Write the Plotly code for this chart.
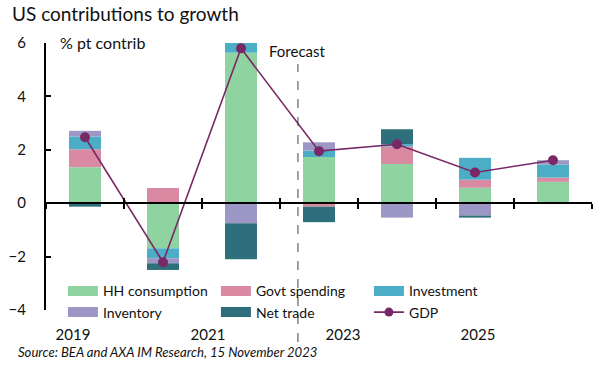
import plotly.graph_objects as go

years = [2019, 2020, 2021, 2022, 2023, 2024, 2025]
hh_consumption = [1.35, -1.69, 5.64, 1.73, 1.47, 0.58, 0.80]
govt_spending = [0.67, 0.57, 0.0, -0.13, 0.65, 0.30, 0.16]
investment = [0.48, -0.37, 0.40, 0.24, 0.09, 0.82, 0.49]
inventory = [0.21, -0.19, -0.75, 0.31, -0.54, -0.46, 0.16]
net_trade = [-0.13, -0.25, -1.35, -0.58, 0.56, -0.08, 0.0]
gdp = [2.47, -2.21, 5.80, 1.95, 2.21, 1.15, 1.61]

label_years = [2019, 2021, 2023, 2025]
label_text = ["2019", "2021", "2023", "2025"]
y_ticks = [-4, -2, 0, 2, 4, 6]
forecast_x = 2021.73

series = [
    ("HH consumption", hh_consumption, "#8fd3a1"),
    ("Govt spending", govt_spending, "#da89a2"),
    ("Investment", investment, "#4cadc7"),
    ("Inventory", inventory, "#9d97c6"),
    ("Net trade", net_trade, "#2f6f7c"),
]
gdp_color = "#7a2865"
FONT = "Lato"

W, H = 604, 376

fig = go.Figure()
for name, vals, col in series:
    fig.add_trace(go.Bar(x=years, y=vals, name=name, marker=dict(color=col, line=dict(width=0)),
                         width=0.41, showlegend=False, legendgroup=name))
fig.add_trace(go.Scatter(x=years, y=gdp, name="GDP", mode="lines+markers",
                         line=dict(color=gdp_color, width=1.6),
                         marker=dict(color=gdp_color, size=10), showlegend=False, legendgroup="GDP"))
# legend entries
for name, vals, col in series:
    fig.add_trace(go.Scatter(x=[None], y=[None], mode="lines", name=name,
                             line=dict(color=col, width=10), legendgroup=name))
fig.add_trace(go.Scatter(x=[None], y=[None], mode="lines+markers", name="GDP",
                         line=dict(color=gdp_color, width=1.6),
                         marker=dict(color=gdp_color, size=9), legendgroup="GDP"))
# helper traces for overlay axes
fig.add_trace(go.Scatter(x=[None], y=[None], xaxis="x2", showlegend=False, hoverinfo="skip"))
fig.add_trace(go.Scatter(x=[None], y=[None], xaxis="x3", showlegend=False, hoverinfo="skip"))

bounds = [y + 0.5 for y in [2018] + years]

fig.update_layout(
    width=W, height=H,
    margin=dict(l=46, r=12, t=43, b=66, autoexpand=False),
    paper_bgcolor="white", plot_bgcolor="white",
    barmode="relative",
    font=dict(family=FONT, size=15, color="#111"),
    title=dict(text="US contributions to growth", x=12 / W, xref="container", xanchor="left",
               y=1 - 14 / H, yanchor="middle", yref="container",
               font=dict(family=FONT, size=19, color="#111")),
    xaxis=dict(range=[2018.5, 2025.5], anchor="free", position=0.4, showline=True, linecolor="black",
               linewidth=2, ticks="outside", tickvals=bounds, ticklen=5, tickwidth=2, tickcolor="black",
               showticklabels=False, showgrid=False, zeroline=False),
    xaxis3=dict(range=[2018.5, 2025.5], overlaying="x", anchor="free", position=0.4, showline=False,
                ticks="inside", tickvals=bounds, ticklen=5, tickwidth=2, tickcolor="black",
                showticklabels=False, showgrid=False, zeroline=False),
    xaxis2=dict(range=[2018.6, 2026.69], overlaying="x", anchor="y", side="bottom", showline=False,
                ticks="", tickvals=label_years, ticktext=label_text, showgrid=False, zeroline=False,
                ticklabelstandoff=14, tickfont=dict(size=15, color="#111")),
    yaxis=dict(range=[-4, 6], tickvals=y_ticks, showline=True, linecolor="black", linewidth=2,
               ticks="inside", ticklen=5, tickwidth=2, tickcolor="black", showgrid=False,
               zeroline=False, ticklabelstandoff=15, tickfont=dict(size=15, color="#111")),
    legend=dict(orientation="h", x=0.031, xanchor="left", y=0.13, yanchor="top",
                entrywidth=108, entrywidthmode="pixels", bgcolor="rgba(0,0,0,0)",
                font=dict(size=14, color="#111"), traceorder="normal"),
    shapes=[dict(type="line", xref="x", yref="paper", x0=forecast_x, x1=forecast_x,
                 y0=-0.12, y1=0.921, line=dict(color="#444", width=1, dash="dash"))],
    annotations=[
        dict(text="Forecast", xref="x", yref="paper", x=forecast_x, y=(310 - 51) / 267,
             xanchor="center", yanchor="middle", showarrow=False, font=dict(size=15, color="#111")),
        dict(text="% pt contrib", xref="paper", yref="paper", x=(58 - 46) / 546, y=(310 - 42) / 267,
             xanchor="left", yanchor="middle", showarrow=False, font=dict(size=16, color="#111")),
        dict(text="<i>Source: BEA and AXA IM Research, 15 November 2023</i>", xref="paper", yref="paper",
             x=(16 - 46) / 546, y=(310 - 352) / 267, xanchor="left", yanchor="middle",
             showarrow=False, font=dict(size=13.1, color="#111")),
    ],
)

# remove the default 8px page margin so the figure fills the window exactly
fig.write_html("out.html", config={"displayModeBar": False},
               post_script="document.body.style.margin='0';document.body.style.padding='0';")
